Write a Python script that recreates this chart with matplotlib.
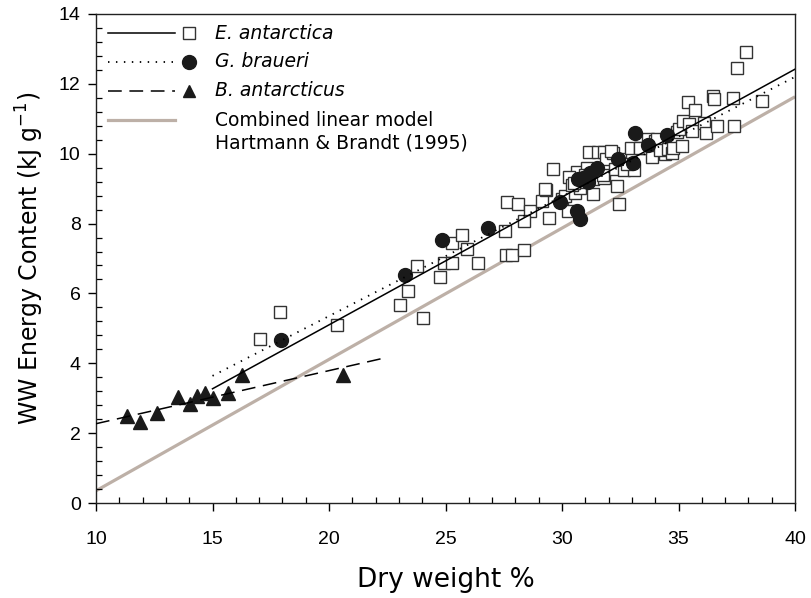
import matplotlib
matplotlib.use("Agg")
import matplotlib.pyplot as plt
from matplotlib.lines import Line2D
from matplotlib.ticker import MultipleLocator

plt.rcParams["font.family"] = ["Liberation Sans", "DejaVu Sans"]
plt.rcParams["mathtext.default"] = "regular"

# ---------------------------------------------------------------------------
# Data
# ---------------------------------------------------------------------------
# E. antarctica (open squares)
ea_dw = [17.05, 17.90, 20.33, 23.05, 23.40, 24.03, 23.76, 24.76, 24.94, 25.26,
         25.26, 25.72, 25.94, 26.38, 27.55, 27.58, 27.87, 28.37, 27.63, 28.13,
         28.63, 28.37, 29.16, 29.45, 29.30, 29.63, 30.00, 30.13, 30.27, 30.56,
         30.77, 30.65, 30.31, 31.09, 31.34, 31.80, 31.34, 31.17, 31.56, 31.80,
         31.89, 32.20, 32.27, 32.35, 32.46, 32.66, 33.09, 32.49, 32.78, 32.96,
         33.36, 33.70, 33.99, 33.85, 34.06, 34.42, 34.20, 34.55, 34.70, 34.77,
         35.13, 34.92, 35.00, 35.21, 35.42, 35.46, 35.60, 35.72, 36.10, 36.18,
         36.47, 36.52, 36.64, 37.35, 37.38, 37.50, 37.90, 38.60, 30.90, 31.00,
         30.45, 30.51, 31.74, 32.12, 33.35, 29.29]
ea_en = [4.70, 5.47, 5.11, 5.68, 6.08, 5.31, 6.78, 6.47, 6.86, 6.86,
         7.43, 7.68, 7.26, 6.86, 7.80, 7.09, 7.11, 7.23, 8.61, 8.55,
         8.36, 8.07, 8.64, 8.17, 8.95, 9.57, 8.69, 8.79, 8.36, 8.88,
         9.03, 9.47, 9.34, 9.60, 9.27, 9.31, 8.86, 10.06, 10.06, 10.06,
         9.84, 10.03, 9.55, 9.07, 8.55, 9.53, 9.53, 9.84, 9.70, 10.17,
         10.17, 10.41, 10.36, 9.92, 10.41, 9.98, 10.10, 10.13, 10.03, 10.17,
         10.22, 10.61, 10.70, 10.94, 11.47, 10.84, 10.65, 11.25, 10.89, 10.60,
         11.66, 11.56, 10.78, 11.60, 10.79, 12.46, 12.92, 11.51, 9.20, 9.40,
         9.10, 9.17, 9.38, 10.08, 10.17, 8.98]

# G. braueri (filled circles)
gb_dw = [17.93, 23.26, 24.87, 26.84, 29.91, 30.66, 30.77, 30.70, 30.90, 31.13,
         31.20, 31.49, 31.10, 32.42, 33.06, 33.70, 33.13, 34.49]
gb_en = [4.66, 6.52, 7.54, 7.88, 8.61, 8.36, 8.12, 9.27, 9.30, 9.36,
         9.46, 9.60, 9.20, 9.86, 9.72, 10.24, 10.58, 10.54]

# B. antarcticus (filled triangles)
ba_dw = [11.32, 11.89, 12.63, 13.53, 14.03, 14.35, 14.68, 15.01, 15.68, 16.25, 20.59]
ba_en = [2.50, 2.33, 2.59, 3.03, 2.84, 3.07, 3.15, 3.02, 3.16, 3.67, 3.67]

# Regression lines (end points)
ea_fit_x = [15.0, 40.0]
ea_fit_y = [3.27, 12.42]
gb_fit_x = [15.0, 40.0]
gb_fit_y = [3.64, 12.20]
ba_fit_x = [10.0, 22.5]
ba_fit_y = [2.27, 4.17]
hb_fit_x = [10.0, 40.0]
hb_fit_y = [0.35, 11.63]

HB_COLOR = "#bdb0a7"
SQ_EDGE = "#333333"
WIDE = "DejaVu Sans"   # the original's labels are set quite wide

# ---------------------------------------------------------------------------
# Plot
# ---------------------------------------------------------------------------
fig = plt.figure(figsize=(8.11, 5.98), dpi=100)
ax = fig.add_axes([96 / 811, 1 - 503 / 598, 699 / 811, 489 / 598])

ax.plot(hb_fit_x, hb_fit_y, color=HB_COLOR, lw=2.3, solid_capstyle="butt", zorder=1)
ax.plot(ea_fit_x, ea_fit_y, color="black", lw=1.1, zorder=4)
ax.plot(gb_fit_x, gb_fit_y, color="black", lw=1.3, dashes=(0.8, 3.6), zorder=4)
ax.plot(ba_fit_x, ba_fit_y, color="black", lw=1.1, dashes=(9, 5), zorder=4)

ax.plot(ea_dw, ea_en, ls="none", marker="s", ms=9, mfc="white", mec=SQ_EDGE,
        mew=1.0, zorder=2)
ax.plot(gb_dw, gb_en, ls="none", marker="o", ms=10, mfc="#1a1a1a", mec="#1a1a1a",
        zorder=3)
ax.plot(ba_dw, ba_en, ls="none", marker="^", ms=10, mfc="#1a1a1a", mec="#1a1a1a",
        zorder=3)

ax.set_xlim(10, 40)
ax.set_ylim(0, 14)
ax.xaxis.set_major_locator(MultipleLocator(5))
ax.xaxis.set_minor_locator(MultipleLocator(1))
ax.yaxis.set_major_locator(MultipleLocator(2))
ax.yaxis.set_minor_locator(MultipleLocator(0.4))
ax.tick_params(which="major", direction="out", length=6, width=1.0,
               labelsize=14, pad=5)
ax.tick_params(which="minor", direction="in", length=4, width=0.9)
ax.tick_params(axis="x", pad=14)
for sp in ax.spines.values():
    sp.set_linewidth(1.0)
    sp.set_color("#222222")

ax.set_xlabel("Dry weight %", fontsize=19, family=WIDE, labelpad=14)
ax.set_ylabel("WW Energy Content (kJ g$^{-1}$)", fontsize=17, family=WIDE,
              labelpad=9)

# Legend drawn by hand to match the original layout
tr = ax.transAxes
rows = [0.961, 0.902, 0.843, 0.783]
lx = [0.017, 0.113]
mx = 0.133
tx = 0.170
ax.add_line(Line2D(lx, [rows[0]] * 2, transform=tr, color="black", lw=1.1))
ax.add_line(Line2D(lx, [rows[1]] * 2, transform=tr, color="black", lw=1.3,
                   dashes=(0.8, 3.6)))
ax.add_line(Line2D(lx, [rows[2]] * 2, transform=tr, color="black", lw=1.1,
                   dashes=(9, 5)))
ax.add_line(Line2D(lx, [rows[3]] * 2, transform=tr, color=HB_COLOR, lw=2.3))
ax.add_line(Line2D([mx], [rows[0]], transform=tr, marker="s", ms=8, mfc="white",
                   mec=SQ_EDGE, mew=1.0, ls="none"))
ax.add_line(Line2D([mx], [rows[1]], transform=tr, marker="o", ms=10, mfc="#1a1a1a",
                   mec="#1a1a1a", ls="none"))
ax.add_line(Line2D([mx], [rows[2]], transform=tr, marker="^", ms=9, mfc="#1a1a1a",
                   mec="#1a1a1a", ls="none"))
leg_kw = dict(transform=tr, fontsize=13.5, family=WIDE, va="center")
ax.text(tx, rows[0], "E. antarctica", style="italic", **leg_kw)
ax.text(tx, rows[1], "G. braueri", style="italic", **leg_kw)
ax.text(tx, rows[2], "B. antarcticus", style="italic", **leg_kw)
ax.text(tx, rows[3], "Combined linear model", **leg_kw)
ax.text(tx, 0.736, "Hartmann & Brandt (1995)", **leg_kw)

fig.savefig("out.png", dpi=100)
